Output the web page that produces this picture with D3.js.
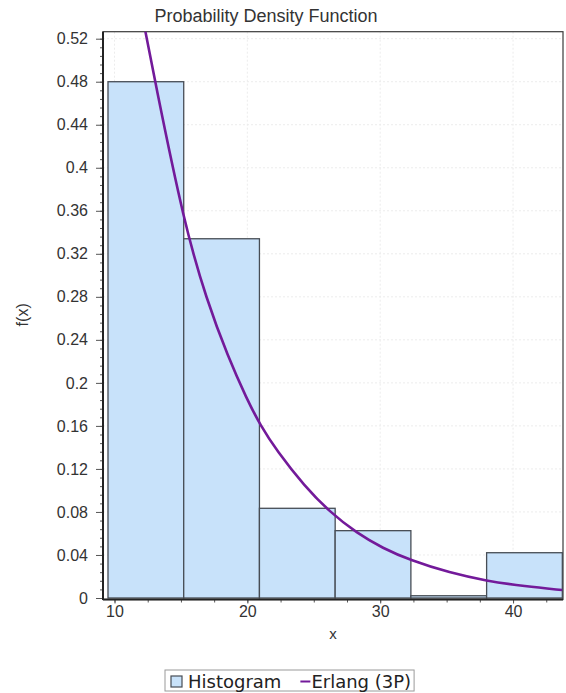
<!DOCTYPE html>
<html>
<head>
<meta charset="utf-8">
<script src="https://cdn.jsdelivr.net/npm/d3@7/dist/d3.min.js"></script>
<style>
  html, body { margin: 0; padding: 0; background: #fff; }
  svg { display: block; font-family: "Liberation Sans", Arial, sans-serif; }
</style>
</head>
<body>
<svg id="chart" width="566" height="693"></svg>
<script>
  // histogram bins (edges) and relative frequencies
  var binEdges = [9.51, 15.21, 20.91, 26.61, 32.31, 38.01, 43.71];
  var binValues = [0.48, 0.334, 0.0834, 0.0626, 0.0021, 0.0421];

  // Erlang (3P) curve
  var curveX = [12.10, 13.05, 15.26, 16.94, 18.55, 19.96, 20.96, 22.21, 24.30, 26.23, 28.24, 30.20, 32.25, 35.26, 37.97, 40.90, 43.70];
  var curveY = [0.541, 0.480, 0.347, 0.277, 0.224, 0.185, 0.161, 0.137, 0.104, 0.0797, 0.0603, 0.0462, 0.0352, 0.0233, 0.0160, 0.0108, 0.0074];

  var xTicks = [10, 20, 30, 40];
  var yTicks = [0, 0.04, 0.08, 0.12, 0.16, 0.2, 0.24, 0.28, 0.32, 0.36, 0.4, 0.44, 0.48, 0.52];
  var legendLabels = ["Histogram", "Erlang (3P)"];

  var svg = d3.select("#chart");
  var plotL = 103, plotR = 563, plotT = 31.7, plotB = 598;

  var x = d3.scaleLinear().domain([9.134, 43.76]).range([plotL, plotR]);
  var y = d3.scaleLinear().domain([0, 0.5265]).range([plotB, plotT]);

  svg.append("defs").append("clipPath").attr("id", "plotclip")
    .append("rect")
    .attr("x", plotL).attr("y", plotT)
    .attr("width", plotR - plotL).attr("height", plotB - plotT + 2);

  // faint grid
  var grid = svg.append("g").attr("stroke", "#ececec").attr("stroke-dasharray", "2,2");
  grid.selectAll("line.gx").data(xTicks).enter().append("line")
    .attr("x1", function(d) { return x(d); }).attr("x2", function(d) { return x(d); })
    .attr("y1", plotT).attr("y2", plotB);
  grid.selectAll("line.gy").data(yTicks.slice(1)).enter().append("line")
    .attr("x1", plotL).attr("x2", plotR)
    .attr("y1", function(d) { return y(d); }).attr("y2", function(d) { return y(d); });

  // plot frame
  svg.append("rect")
    .attr("x", plotL).attr("y", plotT)
    .attr("width", plotR - plotL).attr("height", plotB + 1.5 - plotT)
    .attr("fill", "none").attr("stroke", "#3a3a3a").attr("stroke-width", 1.2);

  // histogram
  var bins = binValues.map(function(v, i) {
    return { x0: binEdges[i], x1: binEdges[i + 1], v: v };
  });
  svg.append("g").selectAll("rect").data(bins).enter().append("rect")
    .attr("x", function(d) { return x(d.x0); })
    .attr("y", function(d) { return y(d.v); })
    .attr("width", function(d) { return x(d.x1) - x(d.x0); })
    .attr("height", function(d) { return y(0) - y(d.v); })
    .attr("fill", "#c8e2fa")
    .attr("stroke", "#474d55")
    .attr("stroke-width", 1.3);

  // fitted curve
  var pts = curveX.map(function(v, i) { return [v, curveY[i]]; });
  var line = d3.line()
    .x(function(d) { return x(d[0]); })
    .y(function(d) { return y(d[1]); })
    .curve(d3.curveBasis);
  svg.append("path")
    .datum(pts)
    .attr("clip-path", "url(#plotclip)")
    .attr("d", line)
    .attr("fill", "none")
    .attr("stroke", "#731a9a")
    .attr("stroke-width", 2.6);

  // axes
  var fmt = function(d) { return String(+d.toFixed(2)); };
  svg.append("g").attr("transform", "translate(" + plotL + ",0)")
    .call(d3.axisLeft(y).tickValues(yTicks).tickFormat(fmt).tickSize(7).tickPadding(8));
  svg.append("g").attr("transform", "translate(" + plotL + ",0)")
    .call(d3.axisLeft(y).tickValues(d3.range(0, 0.5265, 0.008)).tickFormat("").tickSize(3));

  svg.append("g").attr("transform", "translate(0," + (plotB + 1.5) + ")")
    .call(d3.axisBottom(x).tickValues(xTicks).tickSize(4).tickPadding(2));
  svg.append("g").attr("transform", "translate(0," + (plotB + 1.5) + ")")
    .call(d3.axisBottom(x).tickValues(d3.range(10, 43.76, 2.5)).tickFormat("").tickSize(3));

  svg.selectAll(".domain").remove();
  svg.selectAll(".tick line").attr("stroke", "#555");
  svg.selectAll(".tick text")
    .attr("fill", "#333")
    .style("font-size", "16px")
    .style("font-family", "'Liberation Sans', Arial, sans-serif");

  // heavier axis lines
  svg.append("line").attr("x1", plotL).attr("x2", plotL).attr("y1", plotT).attr("y2", plotB + 2)
    .attr("stroke", "#222").attr("stroke-width", 2);
  svg.append("line").attr("x1", plotL).attr("x2", plotR).attr("y1", plotB + 1.5).attr("y2", plotB + 1.5)
    .attr("stroke", "#222").attr("stroke-width", 2);

  // titles
  svg.append("text")
    .attr("x", 266).attr("y", 21.5)
    .attr("text-anchor", "middle")
    .attr("fill", "#333")
    .style("font-size", "18px")
    .text("Probability Density Function");

  svg.append("text")
    .attr("x", (plotL + plotR) / 2).attr("y", 639)
    .attr("text-anchor", "middle")
    .attr("fill", "#333")
    .style("font-size", "15px")
    .text("x");

  svg.append("text")
    .attr("transform", "translate(28," + ((plotT + plotB) / 2) + ") rotate(-90)")
    .attr("text-anchor", "middle")
    .attr("fill", "#333")
    .style("font-size", "16px")
    .text("f(x)");

  // legend
  var legend = svg.append("g").attr("class", "legend");
  var box = legend.append("rect")
    .attr("fill", "#fff").attr("stroke", "#9a9a9a").attr("stroke-width", 1);
  var lx = 171, ly = 681.5;
  legend.append("rect")
    .attr("x", lx).attr("y", ly - 5.5).attr("width", 11).attr("height", 11)
    .attr("fill", "#c8e2fa").attr("stroke", "#474d55").attr("stroke-width", 1.2);
  var t1 = legend.append("text")
    .attr("x", lx + 17).attr("y", ly + 6)
    .attr("fill", "#222")
    .style("font-size", "18px")
    .style("font-family", "'DejaVu Sans', sans-serif")
    .text(legendLabels[0]);
  var afterT1 = lx + 17 + t1.node().getComputedTextLength() + 19;
  legend.append("line")
    .attr("x1", afterT1).attr("x2", afterT1 + 10)
    .attr("y1", ly).attr("y2", ly)
    .attr("stroke", "#731a9a").attr("stroke-width", 2);
  var t2 = legend.append("text")
    .attr("x", afterT1 + 11).attr("y", ly + 6)
    .attr("fill", "#222")
    .style("font-size", "18px")
    .style("font-family", "'DejaVu Sans', sans-serif")
    .text(legendLabels[1]);
  var endX = afterT1 + 11 + t2.node().getComputedTextLength() + 3;
  box.attr("x", lx - 6).attr("y", ly - 11.5)
    .attr("width", endX - (lx - 6)).attr("height", 21);
</script>
</body>
</html>
